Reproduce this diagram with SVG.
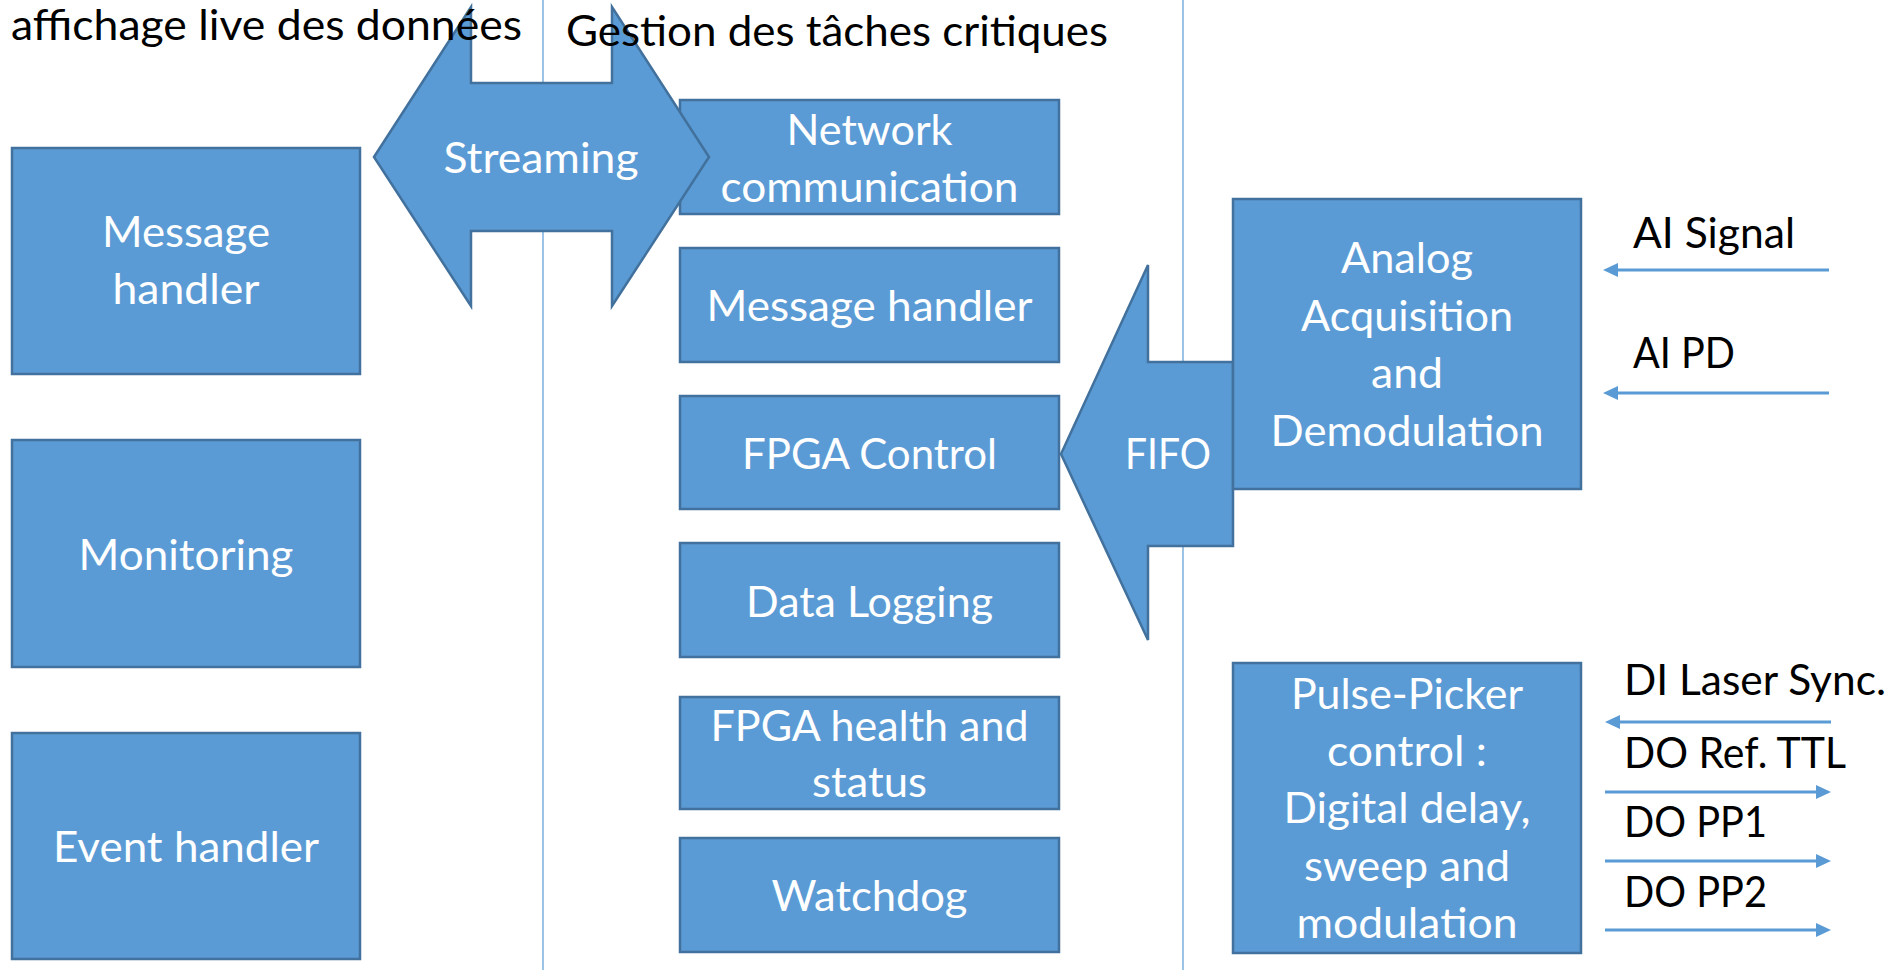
<svg xmlns="http://www.w3.org/2000/svg" width="1897" height="970" viewBox="0 0 1897 970">
<defs>
<style>
.box{fill:#5B9BD5;stroke:#41719C;stroke-width:2.5}
.bt{font-family:Lato,"Liberation Sans",sans-serif;font-size:42px;fill:#FFFFFF;text-anchor:middle}
.lt{font-family:Lato,"Liberation Sans",sans-serif;font-size:42px;fill:#000000}
.sep{stroke:#5B9BD5;stroke-width:1.2}
.sig{stroke:#5B9BD5;stroke-width:3;fill:none}
</style>
<marker id="ah" viewBox="0 -7 15 14" refX="0" refY="0" markerWidth="15" markerHeight="14" markerUnits="userSpaceOnUse" orient="auto">
<path d="M0,-7 L15,0 L0,7 z" fill="#5B9BD5"/>
</marker>
</defs>
<rect width="1897" height="970" fill="#FFFFFF"/>
<g id="separators">
<line class="sep" x1="543" y1="0" x2="543" y2="970"/>
<line class="sep" x1="1183" y1="0" x2="1183" y2="970"/>
</g>
<g id="fifo">
<polygon class="box" points="1061,454 1148,265 1148,362 1233,362 1233,546 1148,546 1148,640"/>
<text class="bt" x="1168" y="469" textLength="86" lengthAdjust="spacingAndGlyphs">FIFO</text>
</g>
<g id="left-message-handler">
<rect class="box" x="12" y="148" width="348" height="226"/>
<text class="bt" x="186" y="247" textLength="168" lengthAdjust="spacingAndGlyphs">Message</text>
<text class="bt" x="186" y="304" textLength="147" lengthAdjust="spacingAndGlyphs">handler</text>
</g>
<g id="monitoring">
<rect class="box" x="12" y="440" width="348" height="227"/>
<text class="bt" x="186" y="570" textLength="215" lengthAdjust="spacingAndGlyphs">Monitoring</text>
</g>
<g id="event-handler">
<rect class="box" x="12" y="733" width="348" height="226"/>
<text class="bt" x="186" y="862" textLength="266" lengthAdjust="spacingAndGlyphs">Event handler</text>
</g>
<g id="network-communication">
<rect class="box" x="680" y="100" width="379" height="114"/>
<text class="bt" x="869.5" y="145" textLength="166" lengthAdjust="spacingAndGlyphs">Network</text>
<text class="bt" x="869.5" y="202" textLength="298" lengthAdjust="spacingAndGlyphs">communication</text>
</g>
<g id="center-message-handler">
<rect class="box" x="680" y="248" width="379" height="114"/>
<text class="bt" x="869.5" y="321" textLength="326" lengthAdjust="spacingAndGlyphs">Message handler</text>
</g>
<g id="fpga-control">
<rect class="box" x="680" y="396" width="379" height="113"/>
<text class="bt" x="869.5" y="469" textLength="255" lengthAdjust="spacingAndGlyphs">FPGA Control</text>
</g>
<g id="data-logging">
<rect class="box" x="680" y="543" width="379" height="114"/>
<text class="bt" x="869.5" y="617" textLength="247" lengthAdjust="spacingAndGlyphs">Data Logging</text>
</g>
<g id="fpga-health">
<rect class="box" x="680" y="697" width="379" height="112"/>
<text class="bt" x="869.5" y="741" textLength="318" lengthAdjust="spacingAndGlyphs">FPGA health and</text>
<text class="bt" x="869.5" y="797" textLength="115" lengthAdjust="spacingAndGlyphs">status</text>
</g>
<g id="watchdog">
<rect class="box" x="680" y="838" width="379" height="114"/>
<text class="bt" x="869.5" y="911" textLength="196" lengthAdjust="spacingAndGlyphs">Watchdog</text>
</g>
<g id="analog-acquisition">
<rect class="box" x="1233" y="199" width="348" height="290"/>
<text class="bt" x="1407" y="273" textLength="132" lengthAdjust="spacingAndGlyphs">Analog</text>
<text class="bt" x="1407" y="331" textLength="212" lengthAdjust="spacingAndGlyphs">Acquisition</text>
<text class="bt" x="1407" y="388" textLength="72" lengthAdjust="spacingAndGlyphs">and</text>
<text class="bt" x="1407" y="446" textLength="273" lengthAdjust="spacingAndGlyphs">Demodulation</text>
</g>
<g id="pulse-picker">
<rect class="box" x="1233" y="663" width="348" height="290"/>
<text class="bt" x="1407" y="709" textLength="232" lengthAdjust="spacingAndGlyphs">Pulse-Picker</text>
<text class="bt" x="1407" y="766" textLength="160" lengthAdjust="spacingAndGlyphs">control :</text>
<text class="bt" x="1407" y="823" textLength="247" lengthAdjust="spacingAndGlyphs">Digital delay,</text>
<text class="bt" x="1407" y="881" textLength="206" lengthAdjust="spacingAndGlyphs">sweep and</text>
<text class="bt" x="1407" y="938" textLength="221" lengthAdjust="spacingAndGlyphs">modulation</text>
</g>
<g id="streaming">
<polygon class="box" points="374,157 471,7 471,83 612,83 612,7 709,157 612,306 612,231 471,231 471,306"/>
<text class="bt" x="541" y="173" textLength="195" lengthAdjust="spacingAndGlyphs">Streaming</text>
</g>
<g id="titles">
<text class="lt" x="11" y="40" textLength="511" lengthAdjust="spacingAndGlyphs">affichage live des données</text>
<text class="lt" x="566" y="46" textLength="542" lengthAdjust="spacingAndGlyphs">Gestion des tâches critiques</text>
</g>
<g id="signal-labels">
<text class="lt" x="1633" y="248" textLength="162" lengthAdjust="spacingAndGlyphs">AI Signal</text>
<text class="lt" x="1633" y="368" textLength="102" lengthAdjust="spacingAndGlyphs">AI PD</text>
<text class="lt" x="1624" y="695" textLength="262" lengthAdjust="spacingAndGlyphs">DI Laser Sync.</text>
<text class="lt" x="1624" y="768" textLength="222" lengthAdjust="spacingAndGlyphs">DO Ref. TTL</text>
<text class="lt" x="1624" y="837" textLength="143" lengthAdjust="spacingAndGlyphs">DO PP1</text>
<text class="lt" x="1624" y="907" textLength="143" lengthAdjust="spacingAndGlyphs">DO PP2</text>
</g>
<g id="connectors">
<line class="sig" x1="1829" y1="270" x2="1618" y2="270" marker-end="url(#ah)"/>
<line class="sig" x1="1829" y1="393" x2="1618" y2="393" marker-end="url(#ah)"/>
<line class="sig" x1="1831" y1="722" x2="1620" y2="722" marker-end="url(#ah)"/>
<line class="sig" x1="1605" y1="792" x2="1816" y2="792" marker-end="url(#ah)"/>
<line class="sig" x1="1605" y1="861" x2="1816" y2="861" marker-end="url(#ah)"/>
<line class="sig" x1="1605" y1="930" x2="1816" y2="930" marker-end="url(#ah)"/>
</g>
</svg>
